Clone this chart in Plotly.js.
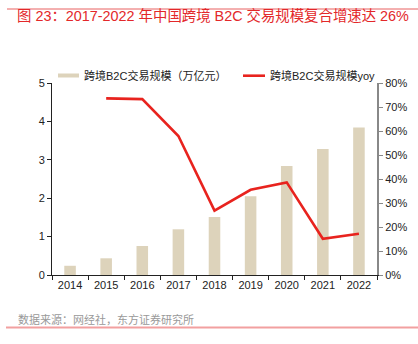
<!DOCTYPE html>
<html>
<head>
<meta charset="utf-8">
<script src="https://cdn.plot.ly/plotly-3.0.1.min.js"></script>
<style>html,body{margin:0;padding:0;background:#fff;}#chart{width:418px;height:344px;}</style>
</head>
<body>
<div id="chart"></div>
<script>
const years = ['2014','2015','2016','2017','2018','2019','2020','2021','2022'];
const scale = [0.24, 0.435, 0.755, 1.19, 1.51, 2.05, 2.84, 3.28, 3.84];
const yoyYears = ['2015','2016','2017','2018','2019','2020','2021','2022'];
const yoy = [0.736, 0.733, 0.579, 0.268, 0.355, 0.386, 0.151, 0.172];
const barName = '跨境B2C交易规模（万亿元）';
const lineName = '跨境B2C交易规模yoy';
const titleText = '图 23：2017-2022 年中国跨境 B2C 交易规模复合增速达 26%';
const sourceText = '数据来源：网经社，东方证券研究所';

const FONT = '"Liberation Sans", Arial, "Noto Sans CJK SC", sans-serif';

const traces = [
  {type:'bar', x:years, y:scale, name:barName, marker:{color:'#DDD3BB'}, width:0.32, yaxis:'y', showlegend:false},
  {type:'scatter', mode:'lines', x:yoyYears, y:yoy, name:lineName, line:{color:'#E8231E', width:2.6}, yaxis:'y2', showlegend:false}
];

const layout = {
  width:418, height:344,
  margin:{l:52, r:41, t:83, b:69},
  paper_bgcolor:'#fff', plot_bgcolor:'#fff',
  font:{family:FONT, size:11, color:'#222'},
  title:{text:titleText, x:17/418, xanchor:'left', xref:'container', y:1-16/344, yanchor:'middle', yref:'container',
         font:{family:FONT, size:14.4, color:'#E3282A'}},
  xaxis:{type:'category', range:[-0.5,8.5], showline:true, linecolor:'#222', linewidth:1,
         ticks:'outside', tickson:'boundaries', ticklen:4, tickcolor:'#222', showgrid:false, zeroline:false,
         tickfont:{size:11, color:'#222'}},
  yaxis:{range:[0,5], dtick:1, showline:true, linecolor:'#222', linewidth:1, ticks:'outside', ticklen:4,
         tickcolor:'#222', showgrid:false, zeroline:false, tickfont:{size:11, color:'#222'}},
  yaxis2:{overlaying:'y', side:'right', range:[0,0.8], dtick:0.1, tickformat:'.0%', showline:true,
          linecolor:'#888', linewidth:2, ticks:'outside', ticklen:4, tickcolor:'#888', showgrid:false, zeroline:false,
          tickfont:{size:11, color:'#222'}},
  shapes:[
    {type:'line', xref:'paper', yref:'paper', x0:(7-52)/325, x1:(418-52)/325, y0:(275-9)/192, y1:(275-9)/192,
     line:{color:'#E86060', width:1}},
    {type:'line', xref:'paper', yref:'paper', x0:(6-52)/325, x1:(418-52)/325, y0:(275-327.5)/192, y1:(275-327.5)/192,
     line:{color:'#F2A0A0', width:2}},
    {type:'rect', xref:'paper', yref:'paper', x0:(58-52)/325, x1:(79-52)/325, y0:(275-77.5)/192, y1:(275-73.5)/192,
     fillcolor:'#DDD3BB', line:{width:0}},
    {type:'line', xref:'paper', yref:'paper', x0:(243-52)/325, x1:(265-52)/325, y0:(275-75.7)/192, y1:(275-75.7)/192,
     line:{color:'#E8231E', width:2.6}}
  ],
  annotations:[
    {text:barName, xref:'paper', yref:'paper', x:(82-52)/325, y:(275-75.5)/192, xanchor:'left', yanchor:'middle',
     showarrow:false, font:{size:11, color:'#222'}},
    {text:lineName, xref:'paper', yref:'paper', x:(268-52)/325, y:(275-75.5)/192, xanchor:'left', yanchor:'middle',
     showarrow:false, font:{size:11, color:'#222'}},
    {text:sourceText, xref:'paper', yref:'paper', x:(16-52)/325, y:(275-319)/192, xanchor:'left', yanchor:'middle',
     showarrow:false, font:{size:11, color:'#999'}}
  ]
};

Plotly.newPlot('chart', traces, layout, {displayModeBar:false, staticPlot:true});
</script>
</body>
</html>
